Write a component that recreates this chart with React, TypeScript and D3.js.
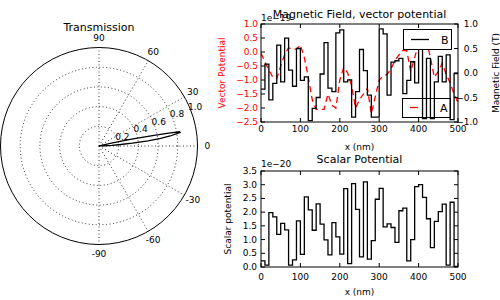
import React from "react";
import * as d3 from "d3";

// polar lobe (degrees, normalised transmission)
const polarThetaDeg = [0, 1, 2, 3, 4, 5, 6, 7, 8, 9, 9.5, 10, 10.5, 11, 11.5, 12, 12.5, 13, 14, 15];
const polarR = [0, 0.02, 0.06, 0.13, 0.22, 0.34, 0.5, 0.63, 0.73, 0.8, 0.835, 0.83, 0.72, 0.57, 0.43, 0.31, 0.22, 0.14, 0.05, 0];
const thetaTicks = [-90, -60, -30, 0, 30, 60, 90];
const rTicks = [0.2, 0.4, 0.6, 0.8, 1.0];

// x positions (nm), 51 edges
const positionsNm = [0, 10, 20, 30, 40, 50, 60, 70, 80, 90, 100, 110, 120, 130, 140, 150, 160, 170, 180, 190,
  200, 210, 220, 230, 240, 250, 260, 270, 280, 290, 300, 310, 320, 330, 340, 350, 360, 370, 380, 390,
  400, 410, 420, 430, 440, 450, 460, 470, 480, 490, 500];

// magnetic field B (T), one value per 10 nm cell
const fieldB = [-0.33, 0.18, -0.55, -0.21, 0.57, -0.18, 0.71, 0.06, -0.27, 0.5,
  -0.15, -0.08, -0.97, -0.72, -0.5, -0.02, 0.62, -0.31, -0.38, 0.82,
  0.88, -0.18, -0.14, -0.9, -0.38, 0.48, 0.05, -0.45, -0.9, -0.9,
  0.9, 0.8, -0.45, 0.22, 0.25, 0.3, -0.42, -0.15, 0.23, -0.2,
  0.65, -0.93, 0.3, -0.93, -0.18, 0.34, -0.18, 0.37, -0.95, -0.01];

// vector potential A (x1e-19), sampled at the edges
const vectorA = [-0.05, -0.35, -0.65, -0.9, -0.95, -0.5, -0.1, 0.15, 0.1, 0.1,
  0.25, -0.2, -0.9, -1.7, -2.05, -2.05, -2.05, -1.5, -1.9, -2.0,
  -1.0, -0.55, -0.75, -1.2, -2.0, -1.7, -1.5, -1.3, -2.2, -1.6,
  -1.0, -0.85, -0.8, -0.6, -0.3, -0.1, 0.05, 0.05, -0.7, -0.2,
  0.3, 0.6, 0.4, -0.2, -0.9, -0.7, -0.4, -0.8, -1.1, -1.5, -1.8];

// scalar potential (x1e-20), one value per cell
const scalarPhi = [0.22, 0.07, 1.98, 1.83, 1.19, 1.59, 1.35, 0.07, 0.26, 1.68,
  0.46, 2.56, 2.08, 1.34, 2.3, 1.56, 0.99, 0.44, 1.62, 1.1,
  0.47, 2.86, 0.12, 3.04, 2.1, 0.37, 3.1, 0.29, 0.96, 2.47,
  2.87, 1.46, 1.57, 1.44, 0.9, 2.05, 2.15, 0.22, 1.0, 2.93,
  3.0, 2.54, 1.76, 0.71, 1.66, 2.02, 2.29, 0.07, 2.36, 0.02];

const xTicks = [0, 100, 200, 300, 400, 500];
const leftTicks = [1.0, 0.5, 0.0, -0.5, -1.0, -1.5, -2.0, -2.5];
const rightTicks = [1.0, 0.5, 0.0, -0.5, -1.0];
const scalarTicks = [0, 0.5, 1.0, 1.5, 2.0, 2.5, 3.0, 3.5];

const FONT = "DejaVu Sans";
const fmt = (v: number) => v.toFixed(1).replace("-", "\u2212");

const App = () => {
  // layout
  const cx = 99, cy = 146, R = 98.5;
  const top = { l: 261, r: 458, t: 24, b: 122 };
  const bot = { l: 261, r: 458, t: 171, b: 267 };

  const rScale = d3.scaleLinear().domain([0, 1]).range([0, R]);
  const x = d3.scaleLinear().domain([0, 500]).range([top.l, top.r]);
  const yLeft = d3.scaleLinear().domain([-2.5, 1]).range([top.b, top.t]);
  const yRight = d3.scaleLinear().domain([-1, 1]).range([top.b, top.t]);
  const yScalar = d3.scaleLinear().domain([0, 3.5]).range([bot.b, bot.t]);

  const lobe = d3
    .lineRadial<number>()
    .angle((d) => ((90 - d) * Math.PI) / 180)
    .radius((d, i) => rScale(polarR[i]));

  const stepLine = (yS: d3.ScaleLinear<number, number>) =>
    d3
      .line<number>()
      .x((d, i) => x(positionsNm[i]))
      .y((d) => yS(d))
      .curve(d3.curveStepAfter);

  const bPath = stepLine(yRight)([...fieldB, fieldB[fieldB.length - 1]]);
  const sPath = stepLine(yScalar)([...scalarPhi, scalarPhi[scalarPhi.length - 1]]);
  const aPath = d3
    .line<number>()
    .x((d, i) => x(positionsNm[i]))
    .y((d) => yLeft(d))(vectorA);

  const pol = (deg: number, r: number) => [
    cx + r * Math.cos((deg * Math.PI) / 180),
    cy - r * Math.sin((deg * Math.PI) / 180),
  ];

  const xAxisTicks = (box: typeof top, labelY: number) =>
    xTicks.map((t) => (
      <g key={t}>
        <line x1={x(t)} x2={x(t)} y1={box.b} y2={box.b - 4} stroke="#000" />
        <line x1={x(t)} x2={x(t)} y1={box.t} y2={box.t + 4} stroke="#000" />
        <text x={x(t)} y={labelY} textAnchor="middle" fontSize={9}>{t}</text>
      </g>
    ));

  return (
    <svg width={500} height={300} style={{ position: "absolute", left: 0, top: 0, background: "#fff" }} fontFamily={FONT}>
      {/* ---------- polar ---------- */}
      <text x={cx} y={30.5} textAnchor="middle" fontSize={11}>Transmission</text>
      {rTicks.slice(0, -1).map((t) => (
        <circle key={t} cx={cx} cy={cy} r={rScale(t)} fill="none" stroke="#000" strokeWidth={0.8} strokeDasharray="1,2.5" />
      ))}
      {thetaTicks.map((a) => {
        const [ex, ey] = pol(a, R);
        return <line key={a} x1={cx} y1={cy} x2={ex} y2={ey} stroke="#000" strokeWidth={0.8} strokeDasharray="1,2.5" />;
      })}
      <circle cx={cx} cy={cy} r={R} fill="none" stroke="#000" strokeWidth={1} />
      <path d={lobe(polarThetaDeg) || ""} transform={`translate(${cx},${cy})`} fill="none" stroke="#000" strokeWidth={1.3} />
      {thetaTicks.map((a) => {
        const [lx, ly] = pol(a, R * 1.1);
        return (
          <text key={a} x={lx} y={ly} textAnchor="middle" dominantBaseline="central" fontSize={9}>{a}</text>
        );
      })}
      {rTicks.map((t) => {
        const [lx, ly] = pol(22.5, rScale(t));
        return <text key={t} x={lx - 2} y={ly + 1.5} fontSize={9}>{t.toFixed(1)}</text>;
      })}

      {/* ---------- magnetic field / vector potential ---------- */}
      <text x={(top.l + top.r) / 2} y={17.5} textAnchor="middle" fontSize={11}>Magnetic Field, vector potential</text>
      <text x={top.l} y={20.5} fontSize={9}>1e{"\u2212"}19</text>
      <path d={aPath || ""} fill="none" stroke="#ff0000" strokeWidth={1.3} strokeDasharray="6,4" />
      <g>
        <rect x={402.5} y={98.5} width={48} height={19} fill="#fff" stroke="#000" />
        <line x1={410} x2={428} y1={107.5} y2={107.5} stroke="#ff0000" strokeWidth={1.3} strokeDasharray="8,20" />
        <text x={440} y={111.5} fontSize={11}>A</text>
      </g>
      <path d={bPath || ""} fill="none" stroke="#000" strokeWidth={1.3} />
      <g>
        <rect x={403.5} y={29.5} width={48} height={20} fill="#fff" stroke="#000" />
        <line x1={411} x2={429} y1={39.5} y2={39.5} stroke="#000" strokeWidth={1.3} />
        <text x={441} y={43.5} fontSize={11}>B</text>
      </g>
      <rect x={top.l} y={top.t} width={top.r - top.l} height={top.b - top.t} fill="none" stroke="#000" />
      {xAxisTicks(top, 132)}
      {leftTicks.map((t) => (
        <g key={t}>
          <line x1={top.l} x2={top.l + 4} y1={yLeft(t)} y2={yLeft(t)} stroke="#000" />
          <text x={258} y={yLeft(t)} textAnchor="end" dominantBaseline="central" fontSize={9} fill="#ff0000">{fmt(t)}</text>
        </g>
      ))}
      {rightTicks.map((t) => (
        <g key={t}>
          <line x1={top.r} x2={top.r - 4} y1={yRight(t)} y2={yRight(t)} stroke="#000" />
          <text x={478} y={yRight(t)} textAnchor="end" dominantBaseline="central" fontSize={9}>{fmt(t)}</text>
        </g>
      ))}
      <text transform={`translate(225,${(top.t + top.b) / 2}) rotate(-90)`} textAnchor="middle" fontSize={9} fill="#ff0000">Vector Potential</text>
      <text transform={`translate(499,${(top.t + top.b) / 2}) rotate(-90)`} textAnchor="middle" fontSize={9}>Magnetic Field (T)</text>
      <text x={(top.l + top.r) / 2} y={150} textAnchor="middle" fontSize={9}>x (nm)</text>

      {/* ---------- scalar potential ---------- */}
      <text x={(bot.l + bot.r) / 2} y={163} textAnchor="middle" fontSize={11}>Scalar Potential</text>
      <text x={bot.l} y={166.5} fontSize={9}>1e{"\u2212"}20</text>
      <path d={sPath || ""} fill="none" stroke="#000" strokeWidth={1.3} />
      <rect x={bot.l} y={bot.t} width={bot.r - bot.l} height={bot.b - bot.t} fill="none" stroke="#000" />
      {xAxisTicks(bot, 280)}
      {scalarTicks.map((t) => (
        <g key={t}>
          <line x1={bot.l} x2={bot.l + 4} y1={yScalar(t)} y2={yScalar(t)} stroke="#000" />
          <line x1={bot.r} x2={bot.r - 4} y1={yScalar(t)} y2={yScalar(t)} stroke="#000" />
          <text x={257} y={yScalar(t)} textAnchor="end" dominantBaseline="central" fontSize={9}>{fmt(t)}</text>
        </g>
      ))}
      <text transform={`translate(231,${(bot.t + bot.b) / 2}) rotate(-90)`} textAnchor="middle" fontSize={9}>Scalar potential</text>
      <text x={(bot.l + bot.r) / 2} y={295} textAnchor="middle" fontSize={9}>x (nm)</text>
    </svg>
  );
};

export default App;
